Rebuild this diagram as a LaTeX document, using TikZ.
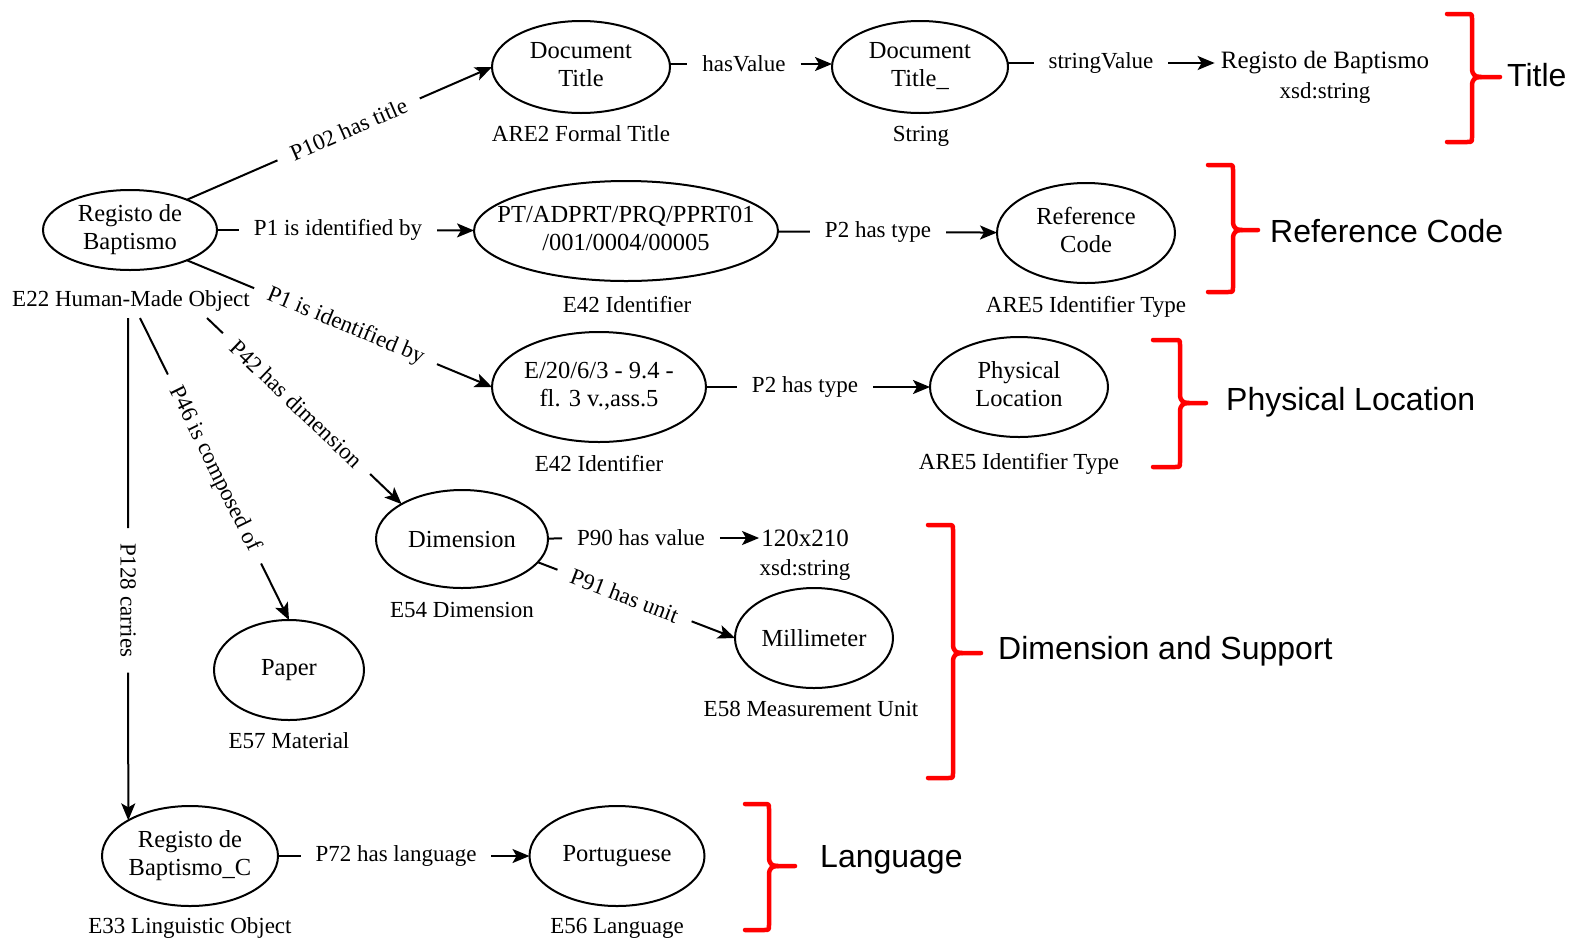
\documentclass[tikz,border=0pt]{standalone}
\usepackage{fontspec}
\setmainfont{Liberation Serif}
\newfontfamily\grpfont{Liberation Sans}
\usetikzlibrary{arrows.meta,shapes.geometric}

% centred multi-line text that does not widen the ellipse around it
\newcommand{\ctext}[1]{\makebox[0pt]{\begin{tabular}{@{}c@{}}#1\end{tabular}}}

\begin{document}
\begin{tikzpicture}[x=1pt,y=-1pt,
  every node/.style={font=\fontsize{23}{28}\selectfont},
  ent/.style={ellipse,draw,line width=2pt,inner sep=0pt,outer sep=0pt,
              font=\fontsize{24.5}{28}\selectfont},
  cls/.style={anchor=base,inner sep=0pt},
  val/.style={inner xsep=6pt,inner ysep=0pt,font=\fontsize{25}{28}\selectfont},
  rel/.style={inner xsep=15pt,inner ysep=2pt,outer sep=0pt},
  conn/.style={line width=2pt},
  arr/.style={line width=2pt,-{Stealth[length=17pt,width=14pt,inset=4pt]}},
  grp/.style={anchor=west,inner sep=0pt,font=\grpfont\fontsize{32}{38}\selectfont},
  brace/.style={draw=red,line width=4.5pt,line cap=round,line join=round}
]
\useasboundingbox (0,0) rectangle (1570,938);

% ---------- entities ----------
\node[ent,minimum width=174pt,minimum height=80pt] (main) at (130,230) {\ctext{Registo de\\Baptismo}};
\node[cls] (e22) at (131,306) {E22 Human-Made Object};

\node[ent,minimum width=178pt,minimum height=92pt] (dt) at (581,67) {\ctext{Document\\Title}};
\node[cls] (are2) at (581,141) {ARE2 Formal Title};

\node[ent,minimum width=176pt,minimum height=92pt] (dt2) at (920,67) {\ctext{Document\\Title\_}};
\node[cls] (str) at (921,141) {String};

\node[val] (rdb) at (1325,63) {Registo de Baptismo};
\node[cls] (xsd1) at (1325,98) {xsd:string};

\node[ent,minimum width=304pt,minimum height=100pt] (pt) at (626,231) {\ctext{PT/ADPRT/PRQ/PPRT01\\/001/0004/00005}};
\node[cls] (e42a) at (627,312) {E42 Identifier};

\node[ent,minimum width=178pt,minimum height=100pt] (rc) at (1086,233) {\ctext{Reference\\Code}};
\node[cls] (are5a) at (1086,312) {ARE5 Identifier Type};

\node[ent,minimum width=214pt,minimum height=110pt] (e20) at (599,387) {\ctext{E/20/6/3 - 9.4 -\\fl. 3 v.,ass.5}};
\node[cls] (e42b) at (599,471) {E42 Identifier};

\node[ent,minimum width=178pt,minimum height=100pt] (pl) at (1019,387) {\ctext{Physical\\Location}};
\node[cls] (are5b) at (1019,469) {ARE5 Identifier Type};

\node[ent,minimum width=172pt,minimum height=98pt] (dim) at (462,539) {Dimension};
\node[cls] (e54) at (462,617) {E54 Dimension};

\node[val,inner xsep=2pt] (v120) at (805,538) {120x210};
\node[cls] (xsd2) at (805,575) {xsd:string};

\node[ent,minimum width=158pt,minimum height=100pt] (mm) at (814,638) {Millimeter};
\node[cls] (e58) at (811,716) {E58 Measurement Unit};

\node[ent,minimum width=150pt,minimum height=100pt] (paper) at (289,670) {Paper};
\node[cls] (e57) at (289,748) {E57 Material};

\node[ent,minimum width=176pt,minimum height=100pt] (regc) at (190,856) {\ctext{Registo de\\Baptismo\_C}};
\node[cls] (e33) at (190,933) {E33 Linguistic Object};

\node[ent,minimum width=175pt,minimum height=100pt] (port) at (617,856) {Portuguese};
\node[cls] (e56) at (617,933) {E56 Language};

% ---------- start points below the class label ----------
\coordinate (s42) at (207,318);
\coordinate (s46) at (140,318);
\coordinate (s128) at (128,318);

% ---------- horizontal relations ----------
\node[rel] (lhv) at (744,64) {hasValue};
\draw[conn] (dt.east |- lhv) -- (lhv);
\draw[arr] (lhv) -- (dt2.west |- lhv);

\node[rel] (lsv) at (1101,63) {stringValue};
\draw[conn] (dt2.east |- lsv) -- (lsv);
\draw[arr] (lsv) -- (rdb);

\node[rel] (lp1) at (338,230) {P1 is identified by};
\draw[conn] (main) -- (lp1);
\draw[arr] (lp1) -- (pt);

\node[rel] (lp2a) at (878,232) {P2 has type};
\draw[conn] (pt) -- (lp2a);
\draw[arr] (lp2a) -- (rc);

\node[rel] (lp2b) at (805,387) {P2 has type};
\draw[conn] (e20) -- (lp2b);
\draw[arr] (lp2b) -- (pl);

\node[rel] (lp90) at (641,538) {P90 has value};
\draw[conn] (dim) -- (lp90);
\draw[arr] (lp90) -- (v120);

\node[rel] (lp72) at (396,856) {P72 has language};
\draw[conn] (regc) -- (lp72);
\draw[arr] (lp72) -- (port);

% ---------- sloped relations ----------
\path (main.28) -- (dt.west) node[rel,sloped,pos=0.53] (lp102) {P102 has title};
\draw[conn] (main.28) -- (lp102);
\draw[arr] (lp102) -- (dt.west);

\path (main.-28) -- (e20.west) node[rel,sloped,pos=0.52] (lp1b) {P1 is identified by};
\draw[conn] (main.-28) -- (lp1b);
\draw[arr] (lp1b) -- (e20.west);

\path (s42) -- (dim.150) node[rel,sloped,pos=0.46] (lp42) {P42 has dimension};
\draw[conn] (s42) -- (lp42);
\draw[arr] (lp42) -- (dim.150);

\path (s46) -- (paper.north) node[rel,sloped,pos=0.5] (lp46) {P46 is composed of};
\draw[conn] (s46) -- (lp46);
\draw[arr] (lp46) -- (paper.north);

\path (s128) -- (regc.150) node[rel,rotate=-90,pos=0.562] (lp128) {P128 carries};
\draw[conn] (s128) -- (lp128);
\draw[arr] (lp128) -- (regc.150);

\path (dim.-17) -- (mm.west) node[rel,sloped,pos=0.44] (lp91) {P91 has unit};
\draw[conn] (dim.-17) -- (lp91);
\draw[arr] (lp91) -- (mm.west);

% ---------- group braces ----------
\foreach \xl/\xv/\xt/\yt/\ym/\yb in {
    1447/1472/1500/14/77/142,
    1208/1233/1258/165/230/292,
    1153/1180/1206/340/403/467,
    928/953/981/525/653/778,
    745/769/795/804/866/930}{
  \draw[brace] (\xl,\yt) -- (\xv-5,\yt) .. controls (\xv,\yt) .. (\xv,\yt+5)
    -- (\xv,\ym-9) .. controls (\xv,\ym-2) and (\xv+3,\ym) .. (\xv+9,\ym) -- (\xt,\ym);
  \draw[brace] (\xv+9,\ym) .. controls (\xv+3,\ym) and (\xv,\ym+2) .. (\xv,\ym+9)
    -- (\xv,\yb-5) .. controls (\xv,\yb) .. (\xv-5,\yb) -- (\xl,\yb);
}

\node[grp] (gtitle) at (1507,75) {Title};
\node[grp] (gref) at (1270,231) {Reference Code};
\node[grp] (gloc) at (1226,402) {Physical Location};
\node[grp] (gdim) at (998,651) {Dimension and Support};
\node[grp] (glang) at (820,860) {Language};
\end{tikzpicture}
\end{document}
